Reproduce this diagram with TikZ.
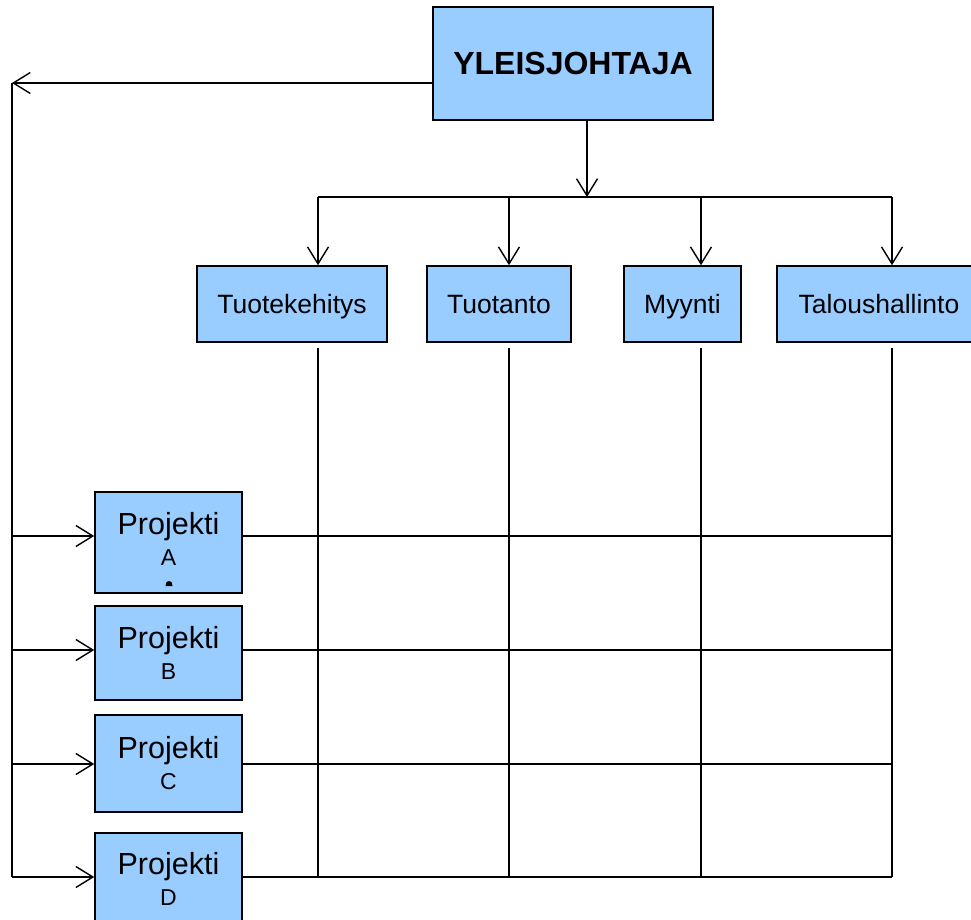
\documentclass[tikz,border=0pt]{standalone}
\usepackage{fontspec}
\setmainfont{Liberation Sans}
\usetikzlibrary{arrows.meta,calc}

\tikzset{
  box/.style={draw=black, line width=1.6pt, fill=boxblue, rectangle, inner sep=0pt, align=center},
  conn/.style={draw=black, line width=1.4pt},
  arr/.style={conn, -{Straight Barb[length=17pt, width=21pt, line width=1.4pt]}},
  dept/.style={box, minimum height=76pt, text height=22pt, text depth=4pt,
               font=\fontsize{26.5}{28}\selectfont},
  proj/.style={box, minimum width=147pt, font=\fontsize{30.5}{32}\selectfont},
}
\definecolor{boxblue}{HTML}{99CCFF}
\newcommand{\projlabel}[1]{Projekti\\[-1pt]{\fontsize{23}{24}\selectfont #1}}

\begin{document}
\begin{tikzpicture}[x=1pt, y=-1pt]
  \useasboundingbox (0,0) rectangle (971,920);
  \begin{scope}
  \clip (0,0) rectangle (971,920);

  % general manager
  \node[box, minimum width=280pt, minimum height=113pt,
        font=\bfseries\fontsize{32}{34}\selectfont] (gm) at (573,63.5) {YLEISJOHTAJA};

  % functional departments
  \node[dept, minimum width=190pt] (dev) at (292,304) {Tuotekehitys};
  \node[dept, minimum width=144pt] (prod) at (499,304) {Tuotanto};
  \node[dept, minimum width=117pt] (sales) at (682.5,304) {Myynti};
  \node[dept, minimum width=204pt] (fin) at (879,304) {Taloushallinto};

  % projects
  \node[proj, minimum height=101pt] (pA) at (168.5,542.5) {};
  \node[font=\fontsize{30.5}{32}\selectfont, align=center, inner sep=0pt] (pAtext) at (168.5,539) {\projlabel{A}};
  \node[proj, minimum height=94pt] (pB) at (168.5,653) {\projlabel{B}};
  \node[proj, minimum height=97pt] (pC) at (168.5,763.5) {\projlabel{C}};
  \node[proj, minimum height=92pt] (pD) at (168.5,879) {\projlabel{D}};
  \fill (165.5,586) -- (166.5,582) to[bend left=40] (171.5,582) -- (172.5,586) -- cycle;

  % column and row positions of the matrix
  \coordinate (bus) at (587,197);
  \coordinate (c1) at (318,197);
  \coordinate (c2) at (509,197);
  \coordinate (c3) at (701,197);
  \coordinate (c4) at (892,197);
  \coordinate (r1) at (892,536);
  \coordinate (r2) at (892,650);
  \coordinate (r3) at (892,764);
  \coordinate (r4) at (892,877);
  \coordinate (lt) at (12,83);
  \coordinate (lb) at (12,877);

  % line authority from the general manager
  \draw[arr] (gm.south -| bus) -- (bus);
  \draw[conn] (c1) -- (c4);
  \draw[arr] (c1) -- (dev.north -| c1);
  \draw[arr] (c2) -- (prod.north -| c2);
  \draw[arr] (c3) -- (sales.north -| c3);
  \draw[arr] (c4) -- (fin.north -| c4);

  % project authority
  \draw[arr] (gm.west |- lt) -- (lt);
  \draw[conn] (lt) -- (lb);
  \draw[arr] (lt |- r1) -- (pA.west |- r1);
  \draw[arr] (lt |- r2) -- (pB.west |- r2);
  \draw[arr] (lt |- r3) -- (pC.west |- r3);
  \draw[arr] (lb) -- (pD.west |- lb);

  % matrix grid
  \draw[conn, shorten <=5pt] (dev.south -| c1) -- (c1 |- r4);
  \draw[conn, shorten <=5pt] (prod.south -| c2) -- (c2 |- r4);
  \draw[conn, shorten <=5pt] (sales.south -| c3) -- (c3 |- r4);
  \draw[conn, shorten <=5pt] (fin.south -| c4) -- (r4);
  \draw[conn] (pA.east |- r1) -- (r1);
  \draw[conn] (pB.east |- r2) -- (r2);
  \draw[conn] (pC.east |- r3) -- (r3);
  \draw[conn] (pD.east |- r4) -- (r4);
  \end{scope}
\end{tikzpicture}
\end{document}
